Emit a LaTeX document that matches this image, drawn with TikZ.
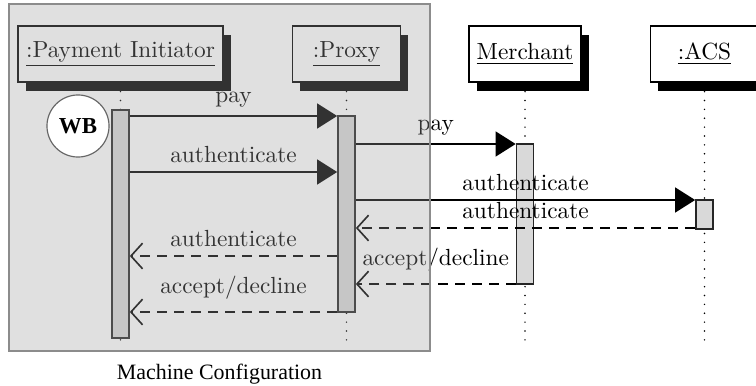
\documentclass[tikz,border=0pt]{standalone}
\usepackage{fontspec}
\newfontfamily\timesfont{Liberation Serif}
\usepackage{tikz}
\usetikzlibrary{arrows.meta,shadows,positioning}

\begin{document}
\begin{tikzpicture}[x=0.4287pt,y=-0.4287pt,
  obj/.style={draw=black,line width=0.7pt,fill=white,minimum width=46.3pt,minimum height=24pt,inner sep=3.4pt,
    drop shadow={shadow xshift=3.4pt,shadow yshift=-3.8pt,fill=black,opacity=1}},
  bar/.style={draw=black!85,line width=0.7pt,fill=black!15,minimum width=7.3pt,inner sep=0pt},
  lifeline/.style={line width=0.7pt,line cap=round,dash pattern=on 0pt off 3.8pt},
  call/.style={-{Triangle[length=8.6pt,width=10.7pt]},line width=0.7pt},
  reply/.style={-{Straight Barb[length=5pt,width=11pt]},dash pattern=on 4.3pt off 3pt,line width=0.7pt},
  msg/.style={above=#1,inner sep=0pt},msg/.default=3.4pt]
\useasboundingbox (0,0) rectangle (756,385);
\node[obj] (pi) at (120.5,54) {\underline{:Payment Initiator}};
\node[obj] (px) at (346.5,54) {\underline{:Proxy}};
\node[obj] (me) at (525,54) {\underline{Merchant}};
\node[obj] (acs) at (704.5,54) {\underline{:ACS}};
\coordinate (end) at (0,342);
\draw[lifeline] (pi.south) -- (pi.south |- end);
\draw[lifeline] (px.south) -- (px.south |- end);
\draw[lifeline] (me.south) -- (me.south |- end);
\draw[lifeline] (acs.south) -- (acs.south |- end);
\node[bar,minimum height=97.7pt] (pib) at (120.5,224) {};
\node[bar,minimum height=84pt] (pxb) at (346.5,214) {};
\node[bar,minimum height=60pt] (meb) at (525,214) {};
\node[bar,minimum height=12.4pt] (acsb) at (704.5,214.5) {};
\coordinate (y1) at (0,116);
\coordinate (y2) at (0,144);
\coordinate (y3) at (0,172);
\coordinate (y4) at (0,200);
\coordinate (y5) at (0,228);
\coordinate (y6) at (0,256);
\coordinate (y7) at (0,284);
\coordinate (y8) at (0,312);
\draw[call] (pib.east |- y1) -- (pxb.west |- y1) node[midway,msg] {pay};
\draw[call] (pxb.east |- y2) -- (meb.west |- y2) node[midway,msg] {pay};
\draw[call] (pib.east |- y3) -- (pxb.west |- y3) node[midway,msg] {authenticate};
\draw[call] (pxb.east |- y4) -- (acsb.west |- y4) node[midway,msg] {authenticate};
\draw[reply] (acsb.west |- y5) -- (pxb.east |- y5) node[midway,msg] {authenticate};
\draw[reply] (pxb.west |- y6) -- (pib.east |- y6) node[midway,msg] {authenticate};
\draw[reply] (meb.west |- y7) -- (pxb.east |- y7) node[midway,msg=5.2pt] {accept/decline};
\draw[reply] (pxb.west |- y8) -- (pib.east |- y8) node[midway,msg=5.2pt] {accept/decline};
\node[draw=black!45,line width=0.6pt,fill=black!38,fill opacity=0.32,minimum width=180.5pt,minimum height=148.8pt,inner sep=0pt] (machine) at (219.5,177.5) {};
\node[below=5pt of machine.south,inner sep=0pt,font=\timesfont\fontsize{9.4}{11}\selectfont] (caption) {Machine Configuration};
\node[circle,draw=black!60,line width=0.5pt,fill=white,minimum size=26.6pt,inner sep=0pt,font=\timesfont\bfseries\fontsize{9.8}{11}\selectfont] (wb) at (78,126) {WB};
\end{tikzpicture}
\end{document}
